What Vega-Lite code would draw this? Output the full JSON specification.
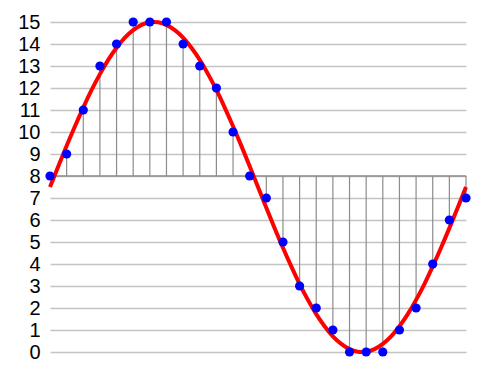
{
  "$schema": "https://vega.github.io/schema/vega-lite/v6.json",
  "width": 416,
  "height": 330,
  "autosize": {"type": "none"},
  "padding": {"left": 50, "top": 22, "right": 34, "bottom": 23},
  "background": "white",
  "config": {
    "view": {"stroke": null},
    "font": "Liberation Sans"
  },
  "datasets": {
    "samples": [
      {"t": 0, "v": 8}, {"t": 1, "v": 9}, {"t": 2, "v": 11}, {"t": 3, "v": 13}, {"t": 4, "v": 14},
      {"t": 5, "v": 15}, {"t": 6, "v": 15}, {"t": 7, "v": 15}, {"t": 8, "v": 14}, {"t": 9, "v": 13},
      {"t": 10, "v": 12}, {"t": 11, "v": 10}, {"t": 12, "v": 8}, {"t": 13, "v": 7}, {"t": 14, "v": 5},
      {"t": 15, "v": 3}, {"t": 16, "v": 2}, {"t": 17, "v": 1}, {"t": 18, "v": 0}, {"t": 19, "v": 0},
      {"t": 20, "v": 0}, {"t": 21, "v": 1}, {"t": 22, "v": 2}, {"t": 23, "v": 4}, {"t": 24, "v": 6},
      {"t": 25, "v": 7}
    ],
    "curve": [
      {"t": 0, "v": 7.5}, {"t": 0.5, "v": 8.44}, {"t": 1, "v": 9.37}, {"t": 1.5, "v": 10.26},
      {"t": 2, "v": 11.11}, {"t": 2.5, "v": 11.91}, {"t": 3, "v": 12.63}, {"t": 3.5, "v": 13.28},
      {"t": 4, "v": 13.83}, {"t": 4.5, "v": 14.29}, {"t": 5, "v": 14.63}, {"t": 5.5, "v": 14.87},
      {"t": 6, "v": 14.99}, {"t": 6.5, "v": 14.99}, {"t": 7, "v": 14.87}, {"t": 7.5, "v": 14.63},
      {"t": 8, "v": 14.29}, {"t": 8.5, "v": 13.83}, {"t": 9, "v": 13.28}, {"t": 9.5, "v": 12.63},
      {"t": 10, "v": 11.91}, {"t": 10.5, "v": 11.11}, {"t": 11, "v": 10.26}, {"t": 11.5, "v": 9.37},
      {"t": 12, "v": 8.44}, {"t": 12.5, "v": 7.5}, {"t": 13, "v": 6.56}, {"t": 13.5, "v": 5.63},
      {"t": 14, "v": 4.74}, {"t": 14.5, "v": 3.89}, {"t": 15, "v": 3.09}, {"t": 15.5, "v": 2.37},
      {"t": 16, "v": 1.72}, {"t": 16.5, "v": 1.17}, {"t": 17, "v": 0.71}, {"t": 17.5, "v": 0.37},
      {"t": 18, "v": 0.13}, {"t": 18.5, "v": 0.01}, {"t": 19, "v": 0.01}, {"t": 19.5, "v": 0.13},
      {"t": 20, "v": 0.37}, {"t": 20.5, "v": 0.71}, {"t": 21, "v": 1.17}, {"t": 21.5, "v": 1.72},
      {"t": 22, "v": 2.37}, {"t": 22.5, "v": 3.09}, {"t": 23, "v": 3.89}, {"t": 23.5, "v": 4.74},
      {"t": 24, "v": 5.63}, {"t": 24.5, "v": 6.56}, {"t": 25, "v": 7.5}
    ]
  },
  "encoding": {
    "x": {"field": "t", "type": "quantitative", "scale": {"domain": [0, 25], "nice": false, "zero": false}, "axis": null},
    "y": {"field": "v", "type": "quantitative", "scale": {"domain": [0, 15], "nice": false},
      "axis": {"values": [0,1,2,3,4,5,6,7,8,9,10,11,12,13,14,15], "title": null, "labelOverlap": false, "labelFontSize": 20, "labelPadding": 10, "ticks": false, "tickSize": 0, "domain": false, "labelFont": "Liberation Sans", "labelColor": "#000000", "gridColor": "#c4c4c4", "gridWidth": 1.5}}
  },
  "layer": [
    {
      "data": {"name": "samples"},
      "mark": {"type": "rule", "color": "#8c8c8c", "strokeWidth": 1.2},
      "encoding": {"y2": {"datum": 8}}
    },
    {
      "data": {"values": [{"t": 0, "b": 25, "v": 8}]},
      "mark": {"type": "rule", "color": "#8c8c8c", "strokeWidth": 1.5},
      "encoding": {"x2": {"field": "b"}}
    },
    {
      "data": {"name": "curve"},
      "mark": {"type": "line", "color": "#ff0000", "strokeWidth": 4, "interpolate": "natural", "clip": false},
      "encoding": {}
    },
    {
      "data": {"name": "samples"},
      "mark": {"type": "circle", "color": "#0000ff", "opacity": 1, "size": 85},
      "encoding": {}
    }
  ]
}
